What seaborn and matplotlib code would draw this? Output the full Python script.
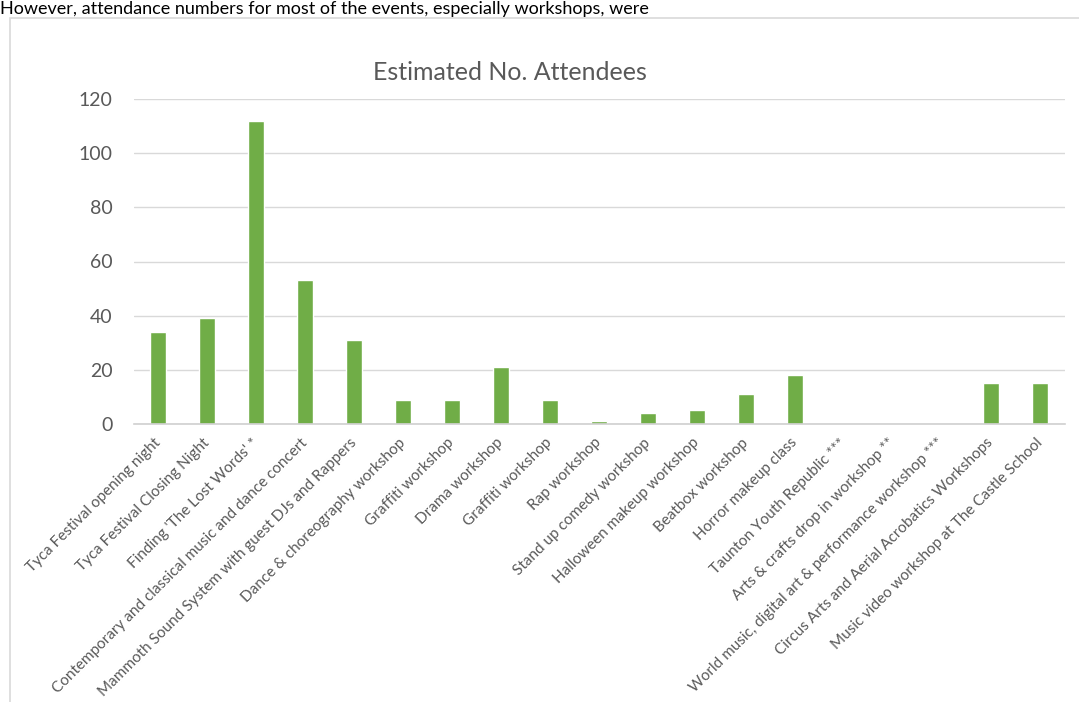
import matplotlib
matplotlib.use("Agg")
import matplotlib.pyplot as plt
import seaborn as sns
import pandas as pd
from matplotlib.patches import Rectangle

categories = [
    "Tyca Festival opening night",
    "Tyca Festival Closing Night",
    "Finding 'The Lost Words' *",
    "Contemporary and classical music and dance concert",
    "Mammoth Sound System with guest DJs and Rappers",
    "Dance & choreography workshop",
    "Graffiti workshop",
    "Drama workshop",
    "Graffiti workshop",
    "Rap workshop",
    "Stand up comedy workshop",
    "Halloween makeup workshop",
    "Beatbox workshop",
    "Horror makeup class",
    "Taunton Youth Republic ***",
    "Arts & crafts drop in workshop **",
    "World music, digital art & performance workshop ***",
    "Circus Arts and Aerial Acrobatics Workshops",
    "Music video workshop at The Castle School",
]
attendees = [34, 39, 112, 53, 31, 9, 9, 21, 9, 1, 4, 5, 11, 18, 0, 0, 0, 15, 15]
y_ticks = [0, 20, 40, 60, 80, 100, 120]
title = "Estimated No. Attendees"
header_text = "However, attendance numbers for most of the events, especially workshops, were"

sns.set_theme(style="white")
plt.rcParams["font.family"] = ["Lato", "DejaVu Sans"]

fig = plt.figure(figsize=(10.79, 7.02), dpi=100)
ax = fig.add_axes([133.5 / 1079, 1 - 424 / 702, (1064.5 - 133.5) / 1079, (424 - 99) / 702])

df = pd.DataFrame({"pos": list(range(len(categories))), "value": attendees})
sns.barplot(data=df, x="pos", y="value", color="#70AD47", saturation=1, width=0.33, ax=ax)

ax.set_ylim(0, 120)
ax.set_yticks(y_ticks)
ax.set_yticklabels([str(v) for v in y_ticks], fontsize=14, color="#595959")
ax.set_xticks(range(len(categories)))
ax.set_xticklabels(categories, rotation=45, ha="right", va="center",
                   rotation_mode="anchor", fontsize=11, color="#595959")
ax.tick_params(axis="x", length=0, pad=12)
ax.tick_params(axis="y", length=0, pad=15)
ax.set_xlabel("")
ax.set_ylabel("")
ax.yaxis.grid(True, color="#D9D9D9", linewidth=1)
ax.set_axisbelow(True)
for s in ["top", "right", "left"]:
    ax.spines[s].set_visible(False)
ax.spines["bottom"].set_color("#D0D0D0")
ax.spines["bottom"].set_linewidth(1.2)

fig.text(510 / 1079, 1 - 72 / 702, title, ha="center", va="center", fontsize=18, color="#595959")

# document context: line of text above and chart border box
fig.text(0.0, 1 - 14 / 702, header_text, ha="left", va="baseline", fontsize=13, color="black")
fig.patches.append(Rectangle((10 / 1079, -0.05), 1.1, 1 - 18 / 702 + 0.05, transform=fig.transFigure,
                             fill=False, edgecolor="#D9D9D9", linewidth=1.2))

fig.savefig("out.png", dpi=100)
